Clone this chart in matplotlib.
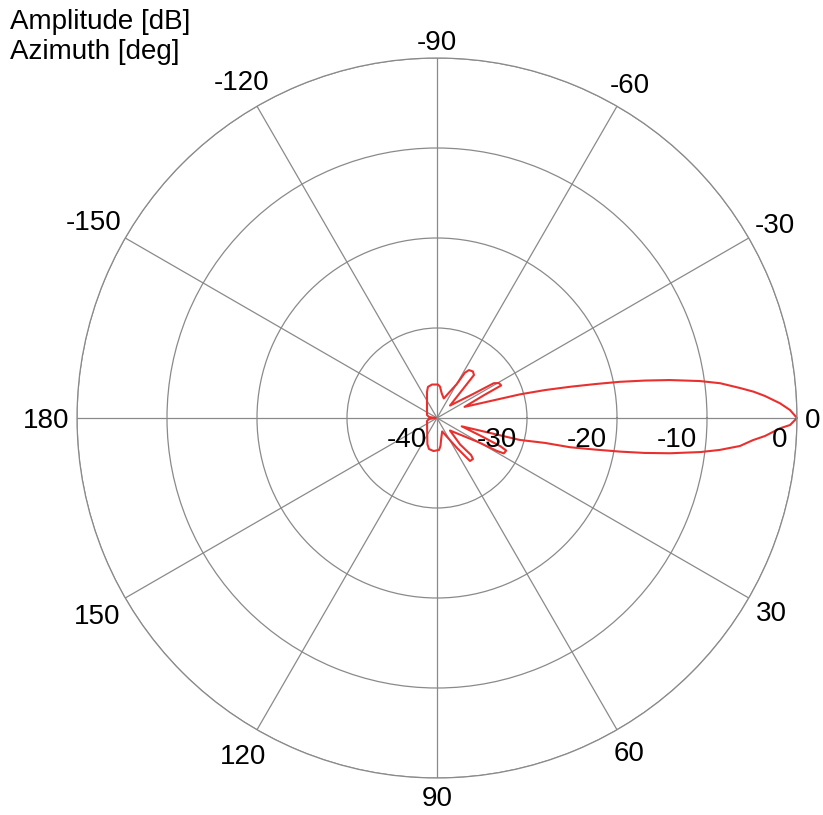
"""Polar antenna pattern: amplitude [dB] against azimuth [deg]."""
import matplotlib

matplotlib.use("Agg")
import matplotlib.pyplot as plt
import numpy as np

plt.rcParams["font.family"] = ["Liberation Sans", "DejaVu Sans"]

# pattern vertices, in drawing order
azimuth_deg = [
    # back lobe / upper third side lobe
    -180, -172.9, -163.3, -111.0, -106.2, -98.5, -88.3, -84.5, -79.3, -70.9,
    # upper second side lobe
    -59.7, -58.4, -56.3, -52.3, -49.3, -43.7,
    # upper first side lobe
    -33.5, -31.5, -29.4, -26.9, -26.6, -25.9, -22.0,
    # main lobe
    -15.9, -14.5, -13.2, -12.1, -11.2, -10.2, -9.26, -8.0, -7.0, -5.65,
    -4.75, -3.84, -2.45, -1.3, 0.0,
    1.14, 1.72, 3.14, 4.0, 5.28, 6.45, 7.37, 8.6, 9.55, 10.4, 11.3,
    12.4, 13.0, 14.85, 18.6,
    # lower first side lobe
    22.4, 24.0, 25.2, 27.9, 28.8, 30.3, 44.0,
    # lower second side lobe
    48.9, 47.4, 48.7, 52.5, 53.4, 56.3, 69.0,
    # lower third side lobe / back lobe
    79.7, 82.9, 86.4, 96.05, 104.5, 110.1, 163.3, 172.9, 180,
]
amplitude_db = [
    -39.8, -39.1, -38.84, -36.9, -36.4, -36.24, -36.28, -36.5, -37.2, -37.7,
    -35.6, -34.1, -33.6, -33.47, -33.7, -38.0,
    -35.1, -32.6, -32.1, -32.0, -32.8, -34.2, -36.7,
    -30.4, -27.6, -24.8, -22.0, -19.3, -16.5, -13.8, -10.5, -8.3, -6.17,
    -4.7, -3.48, -1.85, -0.77, 0.0,
    -0.77, -1.87, -3.5, -4.8, -6.2, -8.4, -10.5, -13.8, -16.6, -19.3, -22.1,
    -24.9, -27.7, -30.5, -37.1,
    -34.5, -32.3, -31.5, -31.6, -32.4, -34.7, -38.0,
    -36.1, -34.4, -33.94, -33.98, -34.6, -36.0, -38.4,
    -37.5, -36.87, -36.44, -36.31, -36.44, -36.9, -38.84, -39.1, -39.8,
]

theta_ticks = [0, 30, 60, 90, 120, 150, 180, 210, 240, 270, 300, 330]
theta_labels = ["0", "30", "60", "90", "120", "150", "180",
                "-150", "-120", "-90", "-60", "-30"]
r_ticks = [-40, -30, -20, -10, 0]
r_labels = ["-40", "-30", "-20", "-10", "0"]

GRID = "#8a8a8a"
LINE = "#e8312f"
FS = 20
GAP = 5.5  # points between the outer ring and the azimuth labels


def label_size(text):
    """Rough width/height (points) of a numeric label in Liberation Sans."""
    width = sum(0.333 if ch == "-" else 0.556 for ch in text) * FS
    return width, 0.716 * FS


fig = plt.figure(figsize=(8.23, 8.15), dpi=100)
ax = fig.add_axes([77 / 823, 37 / 815, 720 / 823, 720 / 815], projection="polar")

ax.set_theta_zero_location("E")
ax.set_theta_direction(-1)
ax.set_ylim(-40, 0)

ax.plot(np.deg2rad(azimuth_deg), amplitude_db, color=LINE, linewidth=1.5)

ax.set_xticks(np.deg2rad(theta_ticks))
ax.set_xticklabels([])
# azimuth labels pushed out radially so that their box clears the ring
for deg, lab in zip(theta_ticks, theta_labels):
    phi = np.deg2rad(-deg)  # clockwise axis -> screen angle
    c, s = np.cos(phi), np.sin(phi)
    w, h = label_size(lab)
    dist = GAP + 0.5 * w * abs(c) + 0.5 * h * abs(s)
    ax.annotate(lab, xy=(np.deg2rad(deg), 0), xytext=(dist * c, dist * s),
                textcoords="offset points", ha="center", va="center_baseline",
                fontsize=FS, annotation_clip=False)

ax.set_yticks(r_ticks)
ax.set_yticklabels([])
for r, lab in zip(r_ticks, r_labels):
    ax.annotate(lab, xy=(0, r), xytext=(-7, -16), textcoords="offset points",
                ha="right", va="center", fontsize=FS)

ax.grid(True, color=GRID, linewidth=0.9)
ax.spines["polar"].set_color(GRID)
ax.spines["polar"].set_linewidth(0.9)

fig.text(10 / 823, 1 - 9 / 815, "Amplitude [dB]\nAzimuth [deg]",
         ha="left", va="top", fontsize=FS, linespacing=1.2)

fig.savefig("out.png", dpi=100)
